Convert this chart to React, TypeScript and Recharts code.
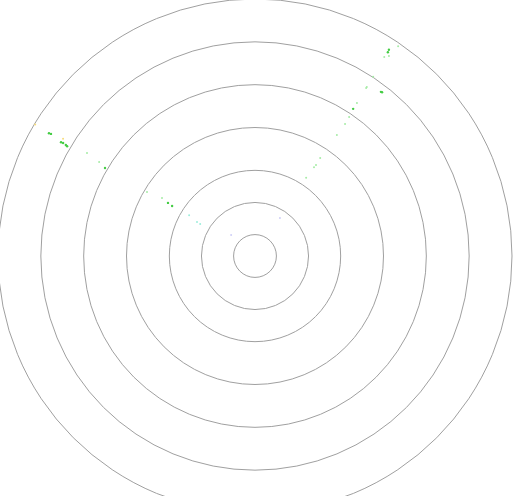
import { PolarAngleAxis, PolarGrid, PolarRadiusAxis, Radar, RadarChart } from 'recharts';

// polar scatter: angle in degrees (counter-clockwise from east), radius in axis units
const ANGLES = [
  149.2, 149.1, 148.6, 149.6, 149.5, 149.6, 149.7, 148.5, 148.9, 149.6,
  149.4, 148.0, 148.6, 148.9, 148.2, 149.6, 149.8, 138.8, 149.1,
  55.7, 57.0, 56.9, 56.2, 57.0, 56.6, 56.5, 56.5, 52.5, 52.2,
  56.3, 56.3, 55.9, 55.7, 55.9, 56.4, 56.2, 56.4, 56.8, 56.7,
];
const RADII = [
  5.6, 5.55, 5.25, 5.25, 5.2, 5.12, 5.08, 4.6, 4.25, 4.06,
  2.93, 2.56, 2.38, 2.26, 1.81, 1.57, 1.48, 0.74, 5.98,
  5.93, 5.74, 5.68, 5.62, 5.54, 5.01, 4.73, 4.7, 4.83, 4.84,
  4.29, 4.13, 3.92, 3.73, 3.41, 2.75, 2.56, 2.49, 2.18, 1.06,
];
const TONES = [
  'green', 'green', 'yellow', 'green', 'green', 'green', 'green', 'light', 'light', 'green',
  'light', 'light', 'green', 'green', 'cyan', 'cyan', 'cyan', 'lavender', 'yellow',
  'light', 'green', 'green', 'light', 'light', 'light', 'light', 'light', 'green', 'green',
  'light', 'green', 'light', 'light', 'light', 'light', 'light', 'light', 'light', 'lavender',
];
const RADIUS_TICKS = [0.5, 1.25, 2, 3, 4, 5, 6];

const TONE_COLORS: Record<string, string> = {
  green: '#44cc44',
  light: '#a6eca6',
  yellow: '#f7dc7a',
  cyan: '#9eeedc',
  lavender: '#cfcff7',
};

const data = ANGLES.map((angle, i) => ({ angle, r: RADII[i], tone: TONES[i] }));

// eslint-disable-next-line @typescript-eslint/no-explicit-any
function Dot(props: any) {
  const d = props.payload?.payload ?? props.payload ?? {};
  if (props.cx == null || props.cy == null) return null;
  const strong = d.tone === 'green';
  return (
    <circle
      key={`dot-${props.index}`}
      cx={props.cx}
      cy={props.cy}
      r={strong ? 1.2 : 1}
      fill={TONE_COLORS[d.tone] ?? '#a6eca6'}
      stroke="none"
    />
  );
}

export default function App() {
  return (
    <div style={{ position: 'absolute', left: 0, top: 0, width: 515, height: 496, overflow: 'hidden', background: '#fff' }}>
      <RadarChart
        width={515}
        height={514}
        data={data}
        margin={{ top: 0, right: 0, bottom: 0, left: 0 }}
        cx={255}
        cy={256}
        outerRadius={257}
        startAngle={0}
        endAngle={360}
      >
        <PolarGrid gridType="circle" radialLines={false} stroke="#a0a0a0" />
        <PolarAngleAxis dataKey="angle" type="number" domain={[0, 360]} tick={false} axisLine={false} />
        <PolarRadiusAxis type="number" domain={[0, 6]} ticks={RADIUS_TICKS} tick={false} axisLine={false} />
        <Radar
          dataKey="r"
          stroke="none"
          fill="none"
          dot={<Dot />}
          activeDot={false}
          isAnimationActive={false}
        />
      </RadarChart>
    </div>
  );
}
